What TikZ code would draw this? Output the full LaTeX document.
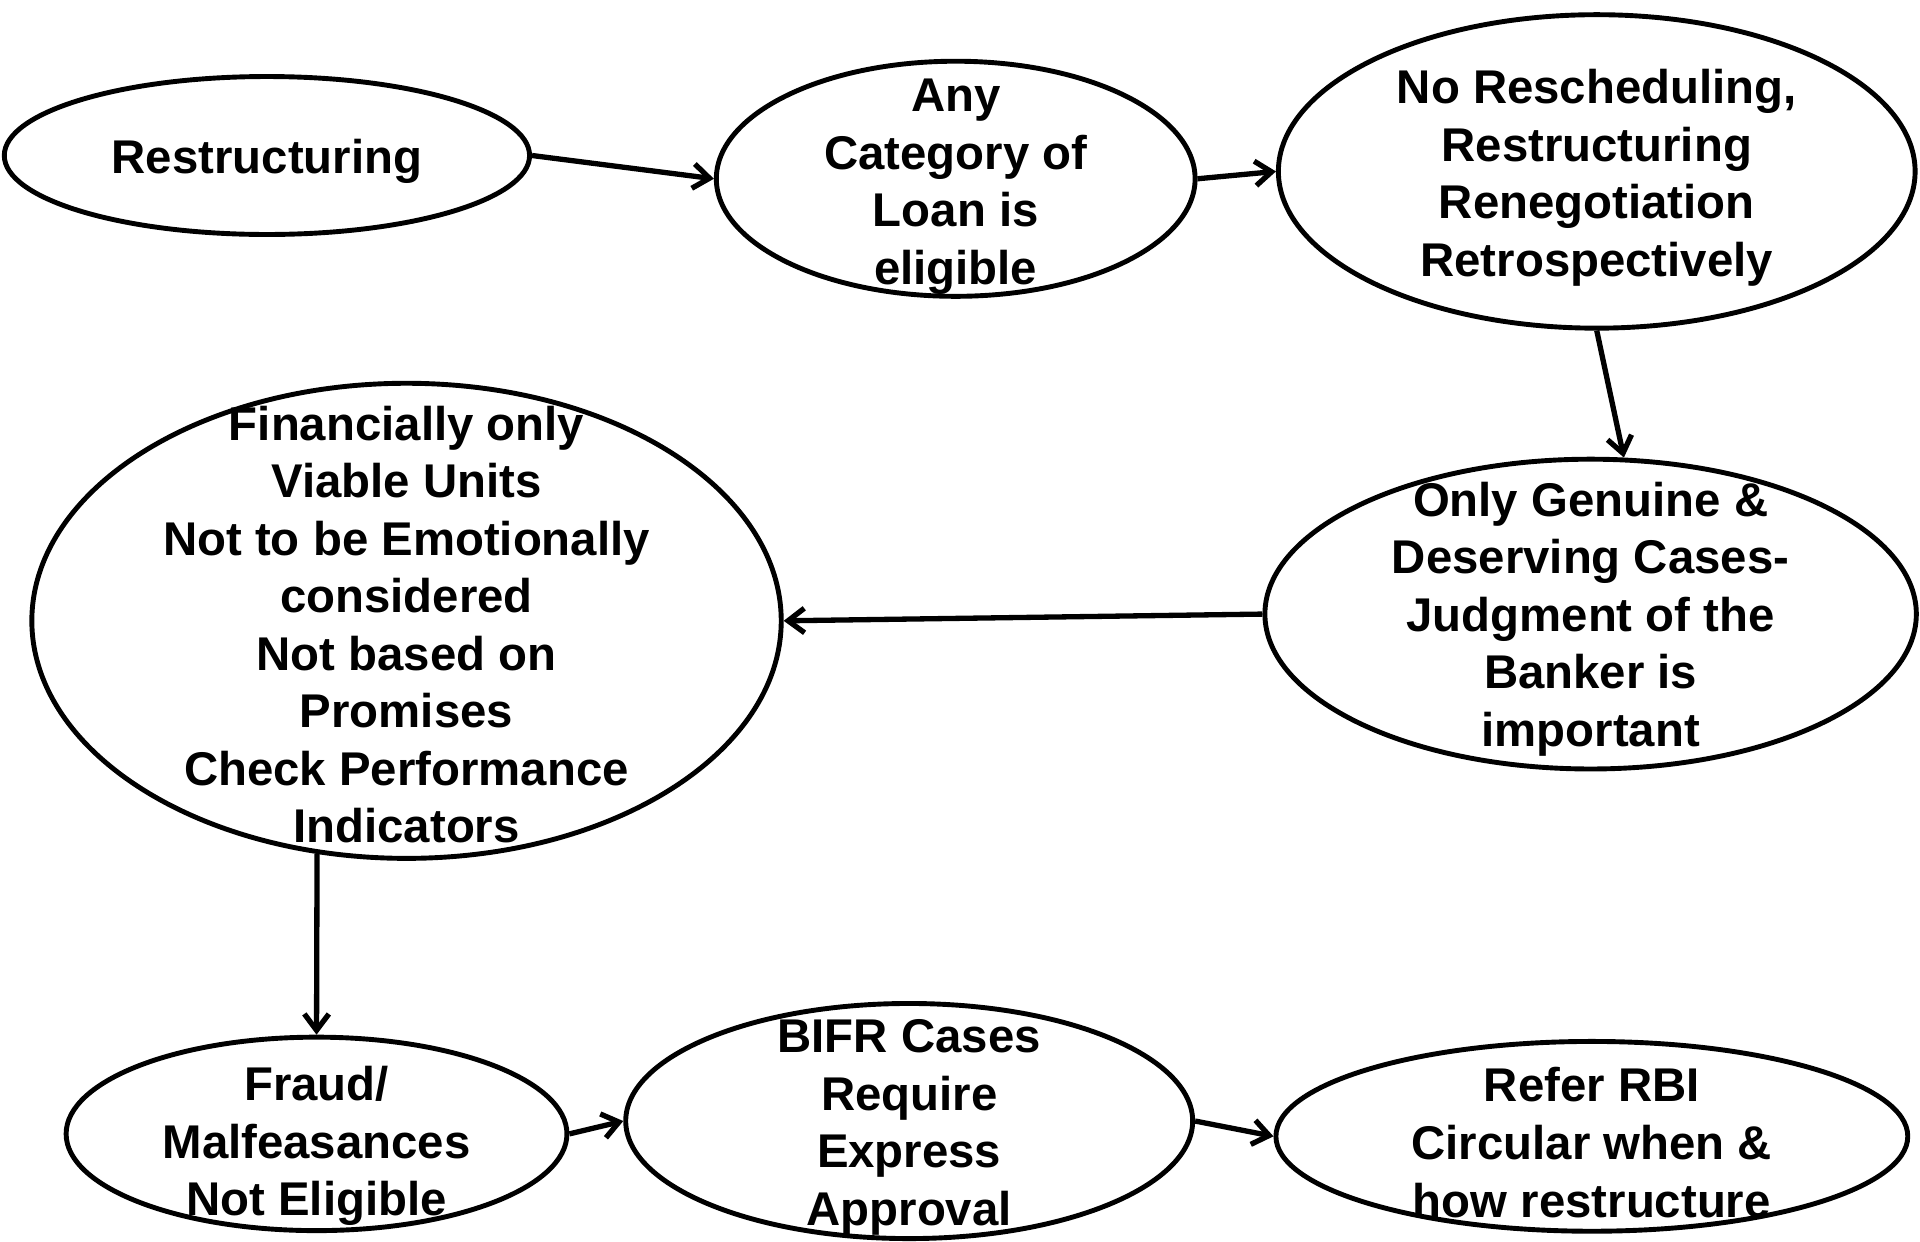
\documentclass[tikz,border=0pt]{standalone}
\usepackage{fontspec}
\setmainfont{Liberation Sans}
\usepackage{tikz}
\usetikzlibrary{shapes.geometric,arrows.meta}
\tikzset{  bubble/.style={draw,ellipse,line width=2.4pt,inner xsep=0pt,inner ysep=-60pt,align=center,font=\bfseries\fontsize{23.2}{28.2}\selectfont} }
\newcommand{\sink}[1]{\rule{0pt}{#1}}
\newcommand{\linkto}[2]{\draw (#1) -- (#2);}

\begin{document}
\begin{tikzpicture}[->,>={Straight Barb[length=8pt,width=12pt]},line width=2.6pt,x=0.6pt,y=-0.6pt]
  \useasboundingbox (0,0) rectangle (1568,1014);
  \node[bubble,minimum width=257.4pt,minimum height=77.4pt] (rest) at (218,127) {\sink{22.9pt}Restructuring};
  \node[bubble,minimum width=234.6pt,minimum height=115.2pt] (any) at (780.5,146) {\sink{23.8pt}Any\\Category of\\Loan is\\eligible};
  \node[bubble,minimum width=312pt,minimum height=153.6pt] (nores) at (1304,140) {\sink{22.9pt}No Rescheduling,\\Restructuring\\Renegotiation\\Retrospectively};
  \node[bubble,minimum width=319.2pt,minimum height=151.8pt] (gen) at (1299,501.5) {\sink{21.7pt}Only Genuine \&\\Deserving Cases-\\Judgment of the\\Banker is\\important};
  \node[bubble,minimum width=367.2pt,minimum height=232.8pt] (fin) at (332,507) {\sink{20.5pt}Financially only\\Viable Units\\Not to be Emotionally\\considered\\Not based on\\Promises\\Check Performance\\Indicators};
  \node[bubble,minimum width=245.4pt,minimum height=94.8pt] (fraud) at (258.5,926) {\sink{28.9pt}Fraud/\\Malfeasances\\Not Eligible};
  \node[bubble,minimum width=277.8pt,minimum height=115.2pt] (bifr) at (742.5,915.5) {\sink{22.6pt}BIFR Cases\\Require\\Express\\Approval};
  \node[bubble,minimum width=309.6pt,minimum height=93pt] (refer) at (1300,928) {\sink{22.9pt}Refer RBI\\Circular when \&\\how restructure};
  \linkto{rest.east}{any.west}
  \linkto{any.east}{nores.west}
  \linkto{nores.south}{gen.78}
  \linkto{gen.west}{fin.east}
  \linkto{fin.249}{fraud.north}
  \linkto{fraud.east}{bifr.west}
  \linkto{bifr.east}{refer.west}
\end{tikzpicture}
\end{document}
